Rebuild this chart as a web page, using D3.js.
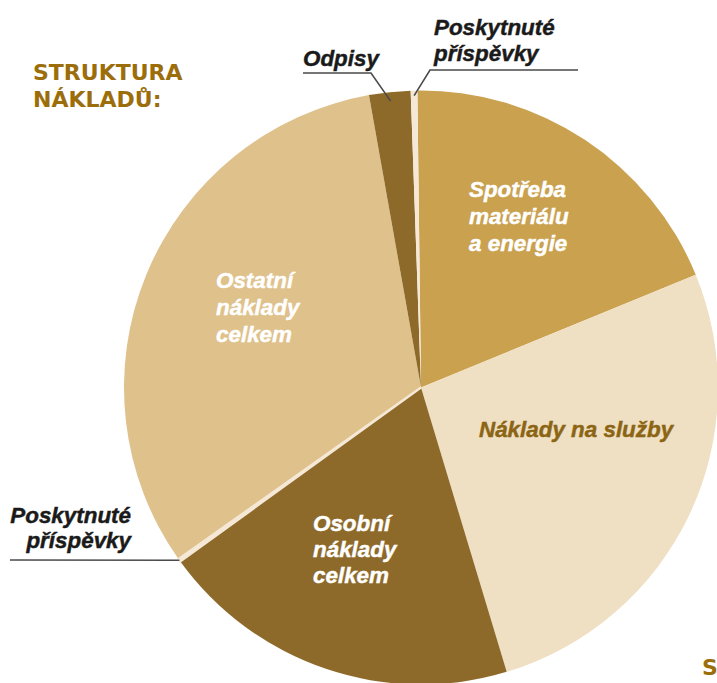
<!DOCTYPE html>
<html><head><meta charset="utf-8">
<script src="https://cdn.jsdelivr.net/npm/d3@7"></script>
<style>
html,body{margin:0;padding:0;background:#fff;overflow:hidden;}
svg{display:block;}
</style></head>
<body>
<svg id="c" width="717" height="683"></svg>
<script>
// Data (share of total costs, %), clockwise from 12 o'clock
const categories = ["Spotřeba materiálu a energie","Náklady na služby","Osobní náklady celkem","Poskytnuté příspěvky (2)","Ostatní náklady celkem","Odpisy","Poskytnuté příspěvky (1)"];
const values = [19.0, 26.55, 19.7, 0.17, 32.0, 2.25, 0.36];
const colors = ["#c9a14f","#efdfc3","#8e6a2a","#f5e8d6","#dfc18b","#8e6a2a","#f5e8d6"];
const title = ["STRUKTURA","NÁKLADŮ:"];

const svg = d3.select("#c");
const cx = 421, cy = 387.5, R = 297;
const deg = Math.PI/180;

const pie = d3.pie().sort(null).value(d => d.v).startAngle(-0.7*deg).endAngle(359.3*deg);
const arcs = pie(categories.map((c,i)=>({c, v: values[i], col: colors[i]})));
const arc = d3.arc().innerRadius(0).outerRadius(R);

const g = svg.append("g").attr("transform", `translate(${cx},${cy})`);
g.selectAll("path").data(arcs).join("path")
  .attr("d", arc).attr("fill", d => d.data.col)
  .attr("stroke", (d,i) => i === 3 ? d.data.col : "none")
  .attr("stroke-width", (d,i) => i === 3 ? 2.2 : 0)
  .filter((d,i) => i === 3).raise();

// title
const tt = svg.append("text").attr("font-family","DejaVu Sans").attr("font-weight","bold")
  .attr("font-size",22).attr("fill","#9b6e0b");
tt.append("tspan").attr("x",33).attr("y",80).text(title[0]);
tt.append("tspan").attr("x",33).attr("y",107).text(title[1]);

// partially visible heading at bottom right
svg.append("text").attr("x",702).attr("y",675).attr("font-family","DejaVu Sans")
  .attr("font-weight","bold").attr("font-size",22).attr("fill","#9b6e0b").text("S");

const F = "Liberation Sans";
function label(lines, x, y0, lh, fill, anchor){
  const t = svg.append("text").attr("font-family",F).attr("font-weight","bold")
    .attr("font-style","italic").attr("font-size",22.4).attr("fill",fill)
    .attr("stroke",fill).attr("stroke-width",0.45)
    .attr("text-anchor", anchor || "start");
  lines.forEach((s,i)=>t.append("tspan").attr("x",x).attr("y",y0+i*lh).text(s));
  return t;
}
// inside labels
label(["Spotřeba","materiálu","a energie"], 469, 197, 27, "#ffffff");
label(["Náklady na služby"], 479, 437, 27, "#8b6514");
label(["Osobní","náklady","celkem"], 313, 531, 26, "#ffffff");
label(["Ostatní","náklady","celkem"], 216, 288, 27, "#ffffff");

// outside labels
label(["Odpisy"], 303, 66, 26, "#1a1a1a");
label(["Poskytnuté","příspěvky"], 434, 35, 26, "#1a1a1a");
label(["Poskytnuté","příspěvky"], 131, 523, 25, "#1a1a1a", "end");

function pt(a, r){ const ang = (a.startAngle + a.endAngle)/2; return [cx + r*Math.sin(ang), cy - r*Math.cos(ang)]; }
const lineStyle = s => s.attr("fill","none").attr("stroke","#4a4a4a").attr("stroke-width",1.6);

// Odpisy leader
let p = pt(arcs[5], 288);
lineStyle(svg.append("polyline").attr("points", `303,73 371,73 ${p[0]},${p[1]}`));
// top Poskytnuté příspěvky leader
p = pt(arcs[6], 292);
lineStyle(svg.append("polyline").attr("points", `578,70 430,70 ${p[0]},${p[1]}`));
// left Poskytnuté příspěvky leader
p = pt(arcs[3], R);
lineStyle(svg.append("polyline").attr("points", `10,560 ${p[0]},${p[1]}`));
</script>
</body></html>
